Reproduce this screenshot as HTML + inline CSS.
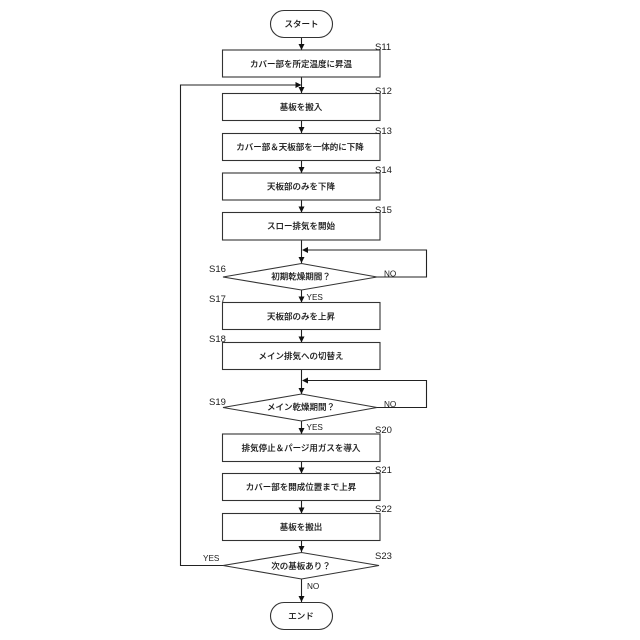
<!DOCTYPE html>
<html><head><meta charset="utf-8">
<style>
html,body{margin:0;padding:0;background:#fff}
svg{display:block}
text{font-family:"Liberation Sans","Noto Sans CJK JP",sans-serif;fill:#1a1a1a}
.t{font-size:8.5px;text-anchor:middle;font-weight:500;stroke:#1a1a1a;stroke-width:.1}
.l{font-size:9.5px}
.b{font-size:8.2px}
.s{fill:#fff;stroke:#333;stroke-width:1.1}
.c{fill:none;stroke:#222;stroke-width:1.1}
.a{fill:#111;stroke:none}
</style></head><body>
<svg width="640" height="640" viewBox="0 0 640 640" xmlns="http://www.w3.org/2000/svg">
<!-- connectors -->
<path class="c" d="M301.5 37V50M301.5 77V93M301.5 121V133M301.5 161V173M301.5 200V212.5M301.5 240V263M301.5 290V302.5M301.5 329.5V342.5M301.5 369.5V394M301.5 421V434M301.5 461.5V473.5M301.5 500.5V513.5M301.5 540V552M301.5 579V602"/>
<path class="c" d="M223 565.5H180.5V85H298"/>
<path class="c" d="M377 277H426.5V250H305"/>
<path class="c" d="M377 407.5H426.5V380.5H305"/>
<!-- shapes -->
<rect class="s" x="270.5" y="10.5" width="62" height="27" rx="13.5"/>
<rect class="s" x="222.5" y="50" width="157.5" height="27"/>
<rect class="s" x="222.5" y="93.5" width="157.5" height="27"/>
<rect class="s" x="222.5" y="133.5" width="157.5" height="27"/>
<rect class="s" x="222.5" y="173" width="157.5" height="27"/>
<rect class="s" x="222.5" y="212.5" width="157.5" height="27.5"/>
<polygon class="s" points="223,277 301.5,263.5 377,277 301.5,290"/>
<rect class="s" x="222.5" y="302.5" width="157.5" height="27"/>
<rect class="s" x="222.5" y="342.5" width="157.5" height="27"/>
<polygon class="s" points="223,407.5 301.5,394 377,407.5 301.5,421"/>
<rect class="s" x="222.5" y="434" width="157.5" height="27.5"/>
<rect class="s" x="222.5" y="473.5" width="157.5" height="27"/>
<rect class="s" x="222.5" y="513.5" width="157.5" height="27"/>
<polygon class="s" points="223,565.5 301.5,552.5 379,565.5 301.5,579"/>
<rect class="s" x="270.5" y="602.5" width="62" height="27" rx="13.5"/>
<!-- arrowheads -->
<g class="a">
<polygon points="298.5,44 304.5,44 301.5,50"/>
<polygon points="298.5,87 304.5,87 301.5,93"/>
<polygon points="298.5,127 304.5,127 301.5,133"/>
<polygon points="298.5,167 304.5,167 301.5,173"/>
<polygon points="298.5,206.5 304.5,206.5 301.5,212.5"/>
<polygon points="298.5,257 304.5,257 301.5,263"/>
<polygon points="298.5,296.5 304.5,296.5 301.5,302.5"/>
<polygon points="298.5,336.5 304.5,336.5 301.5,342.5"/>
<polygon points="298.5,388 304.5,388 301.5,394"/>
<polygon points="298.5,428 304.5,428 301.5,434"/>
<polygon points="298.5,467.5 304.5,467.5 301.5,473.5"/>
<polygon points="298.5,507.5 304.5,507.5 301.5,513.5"/>
<polygon points="298.5,546 304.5,546 301.5,552"/>
<polygon points="298.5,596 304.5,596 301.5,602"/>
<polygon points="295.5,82 295.5,88 301.5,85"/>
<polygon points="308,247 308,253 302,250"/>
<polygon points="308,377.5 308,383.5 302,380.5"/>
</g>
<!-- node text -->
<text class="t" x="301.5" y="27">スタート</text>
<text class="t" x="301" y="67">カバー部を所定温度に昇温</text>
<text class="t" x="301" y="110">基板を搬入</text>
<text class="t" x="300" y="150">カバー部＆天板部を一体的に下降</text>
<text class="t" x="301" y="189.500">天板部のみを下降</text>
<text class="t" x="301" y="229">スロー排気を開始</text>
<text class="t" x="301" y="279.500">初期乾燥期間？</text>
<text class="t" x="301" y="319.500">天板部のみを上昇</text>
<text class="t" x="301" y="359">メイン排気への切替え</text>
<text class="t" x="301" y="410">メイン乾燥期間？</text>
<text class="t" x="301" y="451">排気停止＆パージ用ガスを導入</text>
<text class="t" x="301" y="490">カバー部を開成位置まで上昇</text>
<text class="t" x="301" y="530">基板を搬出</text>
<text class="t" x="301" y="569">次の基板あり？</text>
<text class="t" x="301" y="619">エンド</text>
<!-- step labels -->
<text class="l" x="375" y="50">S11</text>
<text class="l" x="375" y="94">S12</text>
<text class="l" x="375" y="134">S13</text>
<text class="l" x="375" y="173">S14</text>
<text class="l" x="375" y="213">S15</text>
<text class="l" x="209" y="272">S16</text>
<text class="l" x="209" y="302">S17</text>
<text class="l" x="209" y="342">S18</text>
<text class="l" x="209" y="405">S19</text>
<text class="l" x="375" y="433">S20</text>
<text class="l" x="375" y="473">S21</text>
<text class="l" x="375" y="512">S22</text>
<text class="l" x="375" y="559">S23</text>
<!-- branch labels -->
<text class="b" x="384" y="276.500">NO</text>
<text class="b" x="306.500" y="300">YES</text>
<text class="b" x="384" y="407">NO</text>
<text class="b" x="306.500" y="430">YES</text>
<text class="b" x="203" y="561">YES</text>
<text class="b" x="307" y="589">NO</text>
</svg>
</body></html>
